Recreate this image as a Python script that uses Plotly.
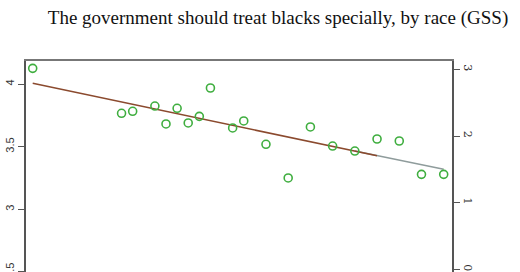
import plotly.graph_objects as go

years = [1975, 1983, 1984, 1986, 1987, 1988, 1989, 1990, 1991, 1993, 1994,
         1996, 1998, 2000, 2002, 2004, 2006, 2008, 2010, 2012]
values = [4.125, 3.766, 3.782, 3.824, 3.681, 3.806, 3.689, 3.742, 3.968, 3.649,
          3.705, 3.519, 3.250, 3.657, 3.505, 3.465, 3.561, 3.545, 3.279, 3.279]

fit1_years = [1975, 2006]
fit1_values = [4.006, 3.427]
fit2_years = [2004, 2012]
fit2_values = [3.465, 3.320]

left_ticks = [2.5, 3, 3.5, 4]
right_ticks = [0, 1, 2, 3]

fig = go.Figure()
fig.add_trace(go.Scatter(x=fit2_years, y=fit2_values, mode="lines",
                         line=dict(color="#8f9c9c", width=1.5), showlegend=False))
fig.add_trace(go.Scatter(x=fit1_years, y=fit1_values, mode="lines",
                         line=dict(color="#8b4a2e", width=1.5), showlegend=False))
fig.add_trace(go.Scatter(x=years, y=values, mode="markers",
                         marker=dict(symbol="circle-open", size=8, color="#3fae3f",
                                     line=dict(width=1.6, color="#3fae3f")),
                         showlegend=False))
fig.add_trace(go.Scatter(x=[None], y=[None], yaxis="y2", showlegend=False,
                         hoverinfo="skip"))

fig.update_layout(
    width=520, height=272,
    margin=dict(l=26, r=68, t=61, b=0, autoexpand=False),
    paper_bgcolor="white", plot_bgcolor="white",
    title=dict(text="The government should treat blacks specially, by race (GSS)",
               x=278/520, xanchor="center", y=1-17/272, yanchor="middle",
               font=dict(family="Liberation Serif", size=19, color="#111")),
    xaxis=dict(range=[1974.397, 2012.747], side="top", showline=True,
               linecolor="#777", linewidth=1.5, ticks="", showticklabels=False,
               showgrid=False, zeroline=False, automargin=False),
    yaxis=dict(range=[2.4996, 4.1836], tickvals=left_ticks,
               ticktext=[("%g" % v) for v in left_ticks],
               showline=True, linecolor="#555", linewidth=1.5,
               ticks="outside", ticklen=6, tickcolor="#555", tickwidth=1,
               tickangle=-90, ticklabeloverflow="allow", automargin=False,
               tickfont=dict(family="Liberation Sans", size=11, color="#333"),
               showgrid=False, zeroline=False),
    yaxis2=dict(range=[-0.039, 3.125], overlaying="y", side="right",
                tickvals=right_ticks, ticktext=[str(v) for v in right_ticks],
                showline=True, linecolor="#555", linewidth=1.5,
                ticks="outside", ticklen=6, tickcolor="#555", tickwidth=1,
                tickangle=90, ticklabeloverflow="allow", automargin=False,
                tickfont=dict(family="DejaVu Serif", size=11, color="#333"),
                showgrid=False, zeroline=False),
)

fig.write_html("out.html")
